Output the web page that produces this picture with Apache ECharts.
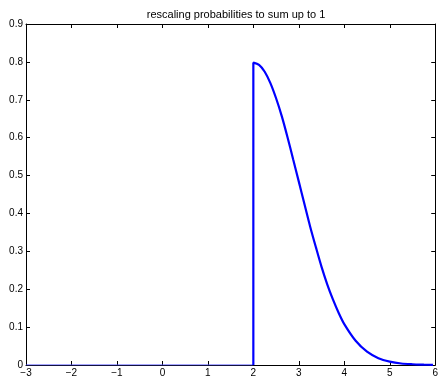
<!DOCTYPE html>
<html>
<head>
<meta charset="utf-8">
<script src="https://cdn.jsdelivr.net/npm/echarts@6/dist/echarts.min.js"></script>
<style>
html,body{margin:0;padding:0;background:#fff;}
#js_chart{width:441px;height:379px;}
</style>
</head>
<body>
<div id="js_chart"></div>
<script>
// values
var zeroX = [-3, 2];
var zeroY = [0, 0];
var curveX = [2, 2, 2.125, 2.25, 2.375, 2.5, 2.625, 2.75, 2.875, 3, 3.125, 3.25, 3.375, 3.5, 3.625, 3.75, 3.875, 4, 4.25, 4.5, 4.75, 5, 5.25, 5.5, 5.75, 5.95];
var curveY = [0, 0.798, 0.792, 0.774, 0.744, 0.704, 0.657, 0.602, 0.543, 0.484, 0.424, 0.365, 0.311, 0.259, 0.213, 0.173, 0.138, 0.108, 0.064, 0.035, 0.018, 0.009, 0.004, 0.002, 0.001, 0.0004];
var xTicks = [-3, 6, 1];
var yTicks = [0, 0.9, 0.1];
var title = 'rescaling probabilities to sum up to 1';

function pairs(xs, ys){
    var out = [];
    for (var i = 0; i < xs.length; i++) out.push([xs[i], ys[i]]);
    return out;
}
function fmt(v){
    return String(Math.round(v * 10) / 10).replace('-', '\u2212');
}

var myChart = echarts.init(document.getElementById('js_chart'));
var font = 'Liberation Sans';
var axisLine = {show:true, onZero:false, lineStyle:{color:'#000', width:1}};
var tick = {show:true, inside:true, length:4, lineStyle:{color:'#000'}};
var option = {
    animation:false,
    title:{
        text:title,
        left:231, top:4, textAlign:'center',
        textStyle:{fontFamily:font, fontSize:11, fontWeight:'normal', color:'#000'}
    },
    grid:{left:26, right:4, top:24, bottom:14},
    xAxis:[
        {type:'value', min:xTicks[0], max:xTicks[1], interval:xTicks[2],
         axisLine:axisLine, axisTick:tick, splitLine:{show:false},
         axisLabel:{fontFamily:font, fontSize:10, color:'#000', margin:3, formatter:fmt}},
        {type:'value', position:'top', min:xTicks[0], max:xTicks[1], interval:xTicks[2],
         axisLine:axisLine, axisTick:tick, splitLine:{show:false}, axisLabel:{show:false}}
    ],
    yAxis:[
        {type:'value', min:yTicks[0], max:yTicks[1], interval:yTicks[2],
         axisLine:axisLine, axisTick:tick, splitLine:{show:false},
         axisLabel:{fontFamily:font, fontSize:10, color:'#000', margin:3, formatter:fmt}},
        {type:'value', position:'right', min:yTicks[0], max:yTicks[1], interval:yTicks[2],
         axisLine:axisLine, axisTick:tick, splitLine:{show:false}, axisLabel:{show:false}}
    ],
    series:[
        {type:'line', data:pairs(zeroX, zeroY), showSymbol:false, silent:true,
         lineStyle:{color:'#4a4aff', width:1}, z:3},
        {type:'line', data:pairs(curveX, curveY), showSymbol:false, silent:true, smooth:0.3,
         lineStyle:{color:'#0000ff', width:2.2}, z:4}
    ]
};
myChart.setOption(option);
</script>
</body>
</html>
